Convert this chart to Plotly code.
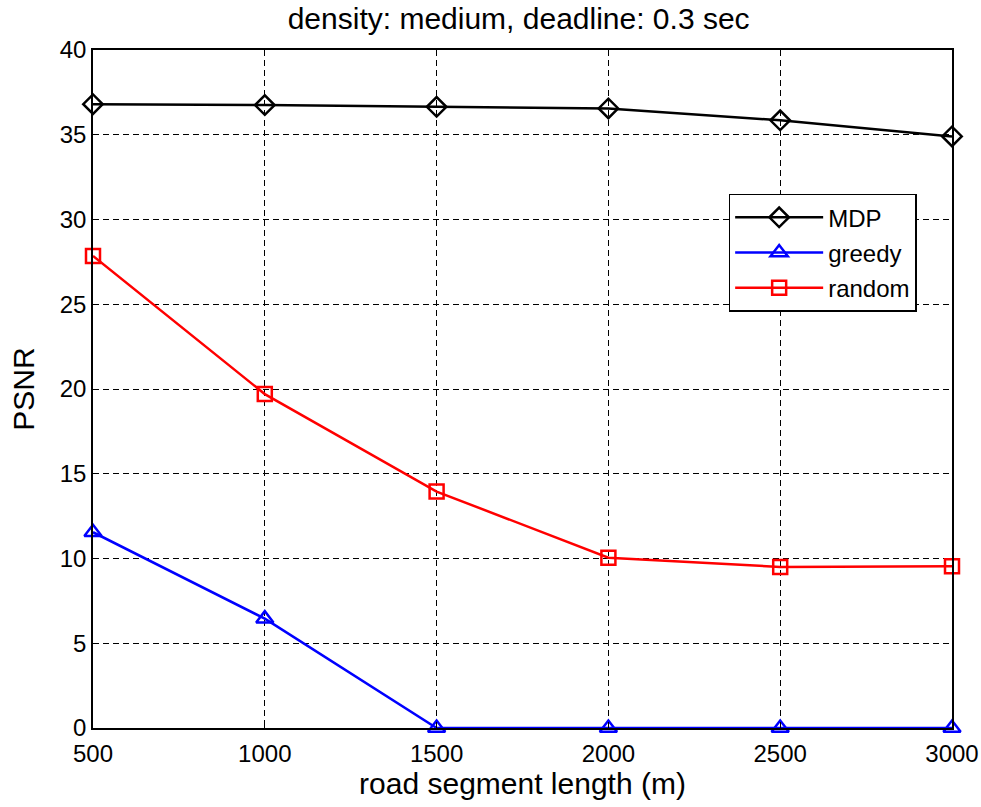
import plotly.graph_objects as go

# road segment length (m)
lengths = [500, 1000, 1500, 2000, 2500, 3000]

# PSNR per scheduling policy
psnr_mdp = [36.8, 36.75, 36.65, 36.55, 35.85, 34.9]
psnr_greedy = [11.55, 6.45, 0.0, 0.0, 0.0, 0.0]
psnr_random = [27.85, 19.7, 13.95, 10.05, 9.5, 9.55]

x_ticks = [500, 1000, 1500, 2000, 2500, 3000]
y_ticks = [0, 5, 10, 15, 20, 25, 30, 35, 40]

FONT = "Liberation Sans, Arial, sans-serif"

fig = go.Figure()

series = [
    ("MDP", psnr_mdp, "#000000", "diamond-open", 15),
    ("greedy", psnr_greedy, "#0000ff", "triangle-up-open", 15),
    ("random", psnr_random, "#ff0000", "square-open", 14),
]
for name, vals, color, symbol, size in series:
    fig.add_trace(go.Scatter(
        x=lengths, y=vals, name=name, mode="lines+markers",
        legendgroup=name,
        line=dict(color=color, width=2.5),
        marker=dict(symbol=symbol, size=size, color=color,
                    line=dict(color=color, width=2.5)),
        cliponaxis=False,
    ))

axis_common = dict(
    showline=True, linecolor="#000000", linewidth=1.5, mirror=True,
    showgrid=True, gridcolor="#000000", gridwidth=1, griddash="6px,4px",
    zeroline=False, ticks="inside", ticklen=6, tickcolor="#000000",
    tickfont=dict(family=FONT, size=24, color="#000000"),
)

fig.update_layout(
    width=981, height=807,
    margin=dict(l=93, r=29, t=50, b=79),
    paper_bgcolor="#ffffff", plot_bgcolor="#ffffff",
    font=dict(family=FONT, size=24, color="#000000"),
    title=dict(text="density: medium, deadline: 0.3 sec",
               x=0.5287, xanchor="center", y=0.99, yanchor="top",
               font=dict(family=FONT, size=30, color="#000000")),
    xaxis=dict(range=[500, 3000], tickvals=x_ticks, ticklabelstandoff=3,
               automargin="bottom",
               title=dict(text="road segment length (m)", standoff=7,
                          font=dict(family=FONT, size=30)),
               **axis_common),
    yaxis=dict(range=[0, 40], tickvals=y_ticks, automargin="left",
               title=dict(text="PSNR", standoff=16,
                          font=dict(family=FONT, size=30)),
               **axis_common),
    legend=dict(x=0.74, y=0.788, xanchor="left", yanchor="top",
                bgcolor="#ffffff", bordercolor="#000000", borderwidth=1.5,
                font=dict(family=FONT, size=24, color="#000000"),
                itemwidth=88, tracegroupgap=1),
    showlegend=True,
)

fig.write_html("out.html")
